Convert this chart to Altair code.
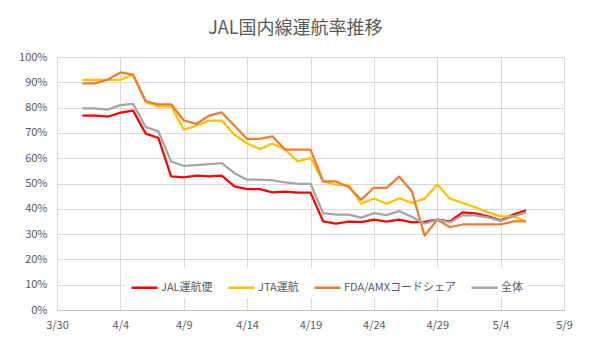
import altair as alt
import pandas as pd

dates = pd.date_range("2020-04-01", "2020-05-06", freq="D").strftime("%Y-%m-%d").tolist()

series_names = ["JAL運航便", "JTA運航", "FDA/AMXコードシェア", "全体"]
series_colors = ["#FF0000", "#FFC000", "#ED7D31", "#A5A5A5"]

jal = [76.8, 76.8, 76.4, 78.0, 78.8, 69.7, 68.0, 52.8, 52.4, 53.1, 52.8, 53.1, 48.9, 47.8, 47.8, 46.5, 46.8, 46.4,
       46.4, 35.0, 34.1, 34.9, 34.7, 35.7, 34.9, 35.7, 34.6, 34.8, 35.7, 35.0, 38.6, 38.2, 37.0, 35.4, 37.7, 39.4]
jta = [91.0, 91.0, 91.0, 91.0, 93.0, 82.1, 80.5, 80.5, 71.3, 72.8, 74.9, 74.9, 69.3, 65.8, 63.6, 65.7, 63.4, 58.7,
       60.1, 50.8, 49.5, 49.5, 42.0, 44.1, 42.0, 44.2, 42.3, 44.0, 49.6, 44.0, 42.3, 40.6, 38.6, 37.0, 37.0, 35.0]
fda = [89.6, 89.6, 91.0, 93.9, 93.0, 82.5, 81.3, 81.3, 74.9, 73.6, 76.8, 78.1, 72.8, 67.6, 67.6, 68.6, 63.4, 63.4,
       63.4, 50.8, 50.8, 48.6, 43.6, 48.3, 48.3, 52.7, 46.8, 29.4, 35.7, 32.7, 33.8, 33.8, 33.8, 33.8, 35.0, 35.0]
total = [79.7, 79.7, 79.2, 81.0, 81.5, 72.3, 70.6, 58.7, 57.0, 57.3, 57.7, 58.1, 54.1, 51.5, 51.5, 51.2, 50.4, 49.9,
         49.9, 38.3, 37.7, 37.7, 36.5, 38.3, 37.5, 39.1, 36.8, 34.1, 35.7, 34.6, 37.4, 37.4, 36.6, 35.2, 37.0, 38.6]

tick_dates = ["2020-03-30", "2020-04-04", "2020-04-09", "2020-04-14", "2020-04-19",
              "2020-04-24", "2020-04-29", "2020-05-04", "2020-05-09"]

rows = []
for name, vals in zip(series_names, [jal, jta, fda, total]):
    for d, v in zip(dates, vals):
        rows.append({"date": d, "series": name, "value": v / 100.0})
df = pd.DataFrame(rows)


def dt(s):
    y, m, d = (int(p) for p in s.split("-"))
    return alt.DateTime(year=y, month=m, date=d, utc=True)


FONT = "Noto Sans CJK JP"
TXT = "#595959"

chart = alt.Chart(df).mark_line(strokeWidth=2.25, strokeJoin="round").encode(
    x=alt.X("date:T",
            scale=alt.Scale(type="utc", domain=[dt(tick_dates[0]), dt(tick_dates[-1])], nice=False),
            axis=alt.Axis(values=[dt(t) for t in tick_dates], format="%-m/%-d", title=None,
                          grid=True, gridColor="#D9D9D9", ticks=False, domainColor="#BFBFBF",
                          labelColor=TXT, labelFontSize=11, labelPadding=9, labelFont=FONT,
                          labelOverlap=False, labelFlush=False)),
    y=alt.Y("value:Q",
            scale=alt.Scale(domain=[0, 1], nice=False),
            axis=alt.Axis(values=[i / 10 for i in range(11)], format=".0%", title=None,
                          grid=True, gridColor="#D9D9D9", ticks=False, domain=False,
                          labelColor=TXT, labelFontSize=11, labelPadding=10, labelFont=FONT)),
    color=alt.Color("series:N",
                    scale=alt.Scale(domain=series_names, range=series_colors),
                    sort=series_names,
                    legend=alt.Legend(title=None, orient="none", direction="horizontal",
                                      legendX=68, legendY=211, columns=4,
                                      symbolType="stroke", symbolStrokeWidth=2.5, symbolSize=680,
                                      labelFont=FONT, labelFontSize=11, labelColor=TXT,
                                      columnPadding=10, fillColor="white", padding=5,
                                      labelOffset=2)),
    order=alt.Order("date:T"),
).properties(
    width=507, height=253,
    title=alt.TitleParams("JAL国内線運航率推移", font=FONT, fontSize=18, fontWeight="normal",
                          color=TXT, anchor="middle", frame="bounds", offset=13),
    padding={"left": 57, "top": 57, "right": 29, "bottom": 44},
    autosize=alt.AutoSizeParams(type="none"),
).configure_view(stroke=None).configure(background="white")

chart.save("out.html", embed_options={"renderer": "svg", "actions": False})
